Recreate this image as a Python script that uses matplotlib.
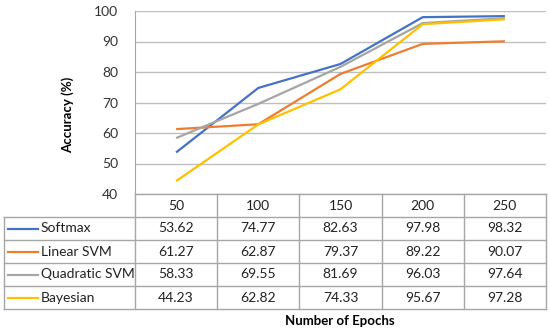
import matplotlib.pyplot as plt
import numpy as np

plt.rcParams['font.family'] = ['Lato', 'DejaVu Sans']

epochs = [50, 100, 150, 200, 250]
series_names = ['Softmax', 'Linear SVM', 'Quadratic SVM', 'Bayesian']
softmax = [53.62, 74.77, 82.63, 97.98, 98.32]
linear_svm = [61.27, 62.87, 79.37, 89.22, 90.07]
quadratic_svm = [58.33, 69.55, 81.69, 96.03, 97.64]
bayesian = [44.23, 62.82, 74.33, 95.67, 97.28]
colors = ['#4472C4', '#ED7D31', '#A5A5A5', '#FFC000']

W, H = 550, 331
fig = plt.figure(figsize=(W / 100, H / 100), dpi=100)

# plot area in pixel terms
px_left, px_right, px_top, px_bottom = 135, 546, 11, 194
ax = fig.add_axes([px_left / W, 1 - px_bottom / H,
                   (px_right - px_left) / W, (px_bottom - px_top) / H])

grid_color = '#BFBFBF'
border_color = '#A6A6A6'
x = np.arange(len(epochs))
all_series = [softmax, linear_svm, quadratic_svm, bayesian]
for vals, c in zip(all_series, colors):
    ax.plot(x, vals, color=c, lw=1.6, solid_capstyle='butt', zorder=3)

ax.set_xlim(-0.5, len(epochs) - 0.5)
ax.set_ylim(40, 100)
ax.set_yticks(range(40, 101, 10))
ax.set_xticks([])
ax.yaxis.grid(True, color=grid_color, lw=1)
ax.set_axisbelow(True)
for s in ['top', 'right', 'bottom']:
    ax.spines[s].set_visible(False)
ax.spines['left'].set_color(border_color)
ax.tick_params(axis='y', length=0, pad=12, labelsize=10, colors='#333333')
ax.set_ylabel('Accuracy (%)', fontsize=9.5, fontweight='bold')
ax.yaxis.set_label_coords(-0.148, 0.43)

# data table below the plot, drawn in pixel coordinates
tab = fig.add_axes([0, 0, 1, 1])
tab.set_xlim(0, W)
tab.set_ylim(H, 0)
tab.axis('off')

col_w = (px_right - px_left) / len(epochs)
col_edges = [px_left + i * col_w for i in range(len(epochs) + 1)]
row_edges = [194, 217, 240, 263, 286, 309]
tab_left = 4

# grid of the table
for e in col_edges:
    tab.plot([e, e], [row_edges[0], row_edges[-1]], color=border_color, lw=1)
for r in row_edges:
    x0 = col_edges[0] if r == row_edges[0] else tab_left
    tab.plot([x0, col_edges[-1]], [r, r], color=border_color, lw=1)
tab.plot([tab_left, tab_left], [row_edges[1], row_edges[-1]], color=border_color, lw=1)

for i, ep in enumerate(epochs):
    tab.text((col_edges[i] + col_edges[i + 1]) / 2, (row_edges[0] + row_edges[1]) / 2,
             str(ep), ha='center', va='center', fontsize=10, color='#222222')

for j, (name, vals, c) in enumerate(zip(series_names, all_series, colors)):
    yc = (row_edges[j + 1] + row_edges[j + 2]) / 2
    tab.plot([8, 38], [yc, yc], color=c, lw=1.6)
    tab.text(41, yc, name, ha='left', va='center', fontsize=10, color='#222222')
    for i, v in enumerate(vals):
        tab.text((col_edges[i] + col_edges[i + 1]) / 2, yc, f'{v:.2f}',
                 ha='center', va='center', fontsize=10, color='#222222')

tab.text(340, 321, 'Number of Epochs', ha='center', va='center',
         fontsize=9.5, fontweight='bold')

fig.savefig('out.png', dpi=100)
